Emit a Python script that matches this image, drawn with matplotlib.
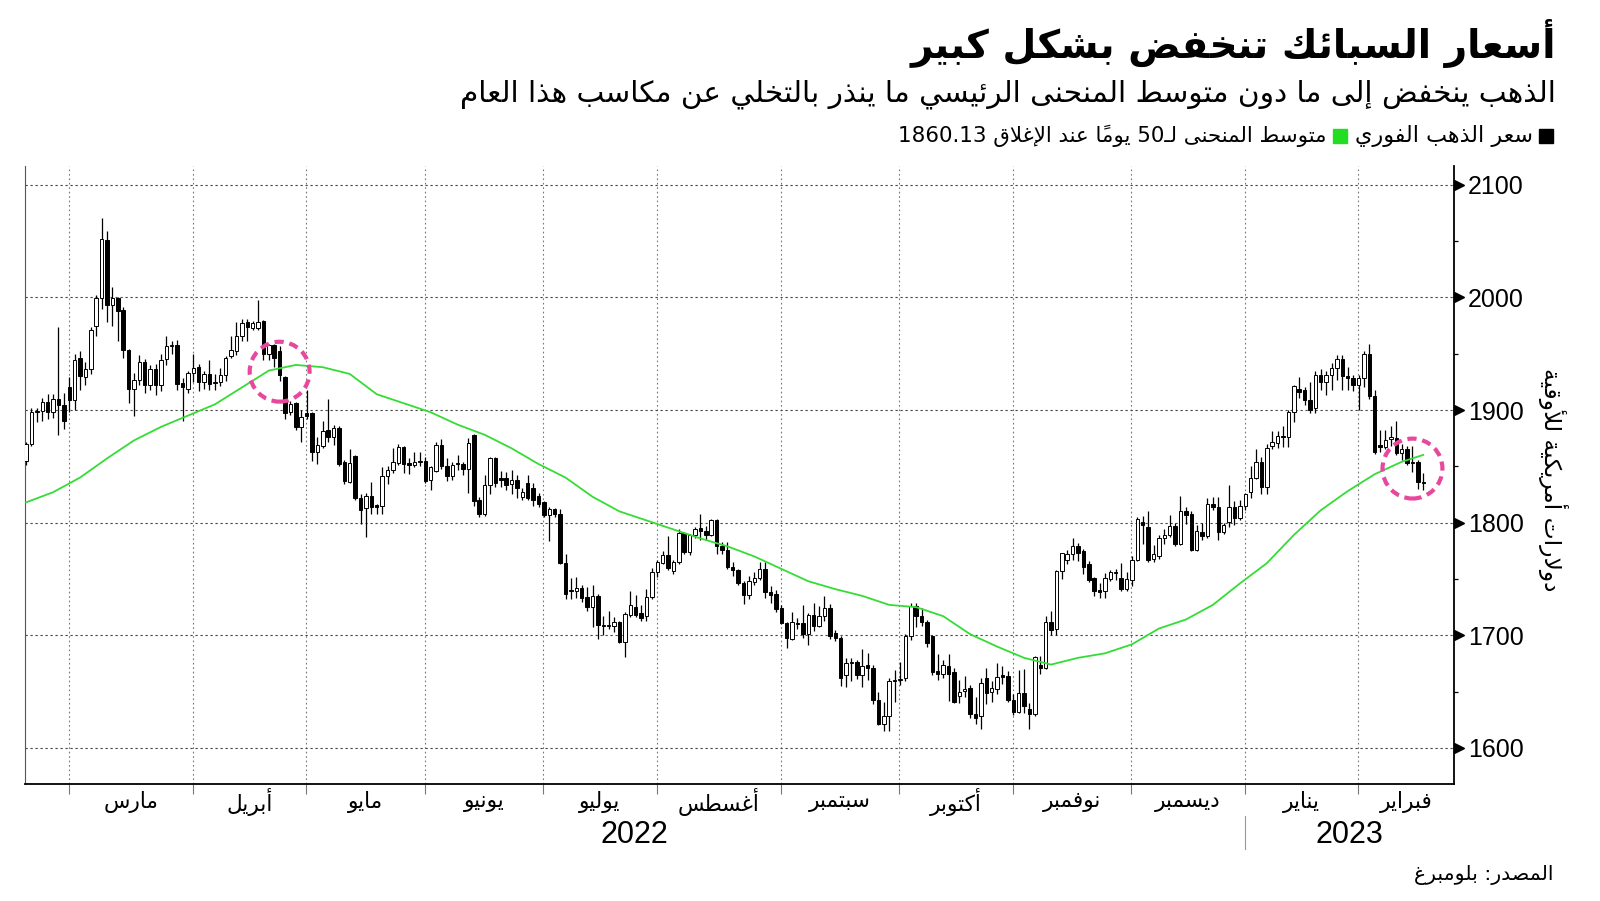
import numpy as np
import pandas as pd
import matplotlib
matplotlib.use('Agg')
import matplotlib.pyplot as plt
import matplotlib.transforms as mtransforms
from matplotlib.patches import Rectangle

plt.rcParams['font.family'] = ['DejaVu Sans']

# ---------------- data: gold spot daily candles, 16 Feb 2022 - 16 Feb 2023
opens = [
    1855, 1870, 1898, 1899, 1907, 1898, 1910, 1904, 1920,  # Feb 22
    1909, 1946, 1929, 1936, 1975, 1999, 2051, 1993, 1999, 1989, 1953, 1919, 1927, 1943, 1922, 1936,
    1922, 1945, 1957, 1958, 1924, 1919, 1933,  # Mar
    1938, 1925, 1932, 1924, 1925, 1931, 1948, 1952, 1966, 1978, 1973, 1973, 1979, 1950, 1958, 1952,
    1929, 1898, 1906, 1885, 1897,  # Apr
    1897, 1863, 1868, 1882, 1876, 1884, 1854, 1836, 1859, 1822, 1813, 1824, 1816, 1815, 1841, 1847,
    1853, 1867, 1853, 1851, 1854, 1855,  # May
    1838, 1846, 1869, 1850, 1841, 1853, 1852, 1848, 1878, 1820, 1808, 1833, 1857, 1840, 1840, 1834,
    1838, 1823, 1835, 1831, 1824, 1818,  # Jun
    1807, 1812, 1808, 1764, 1740, 1739, 1742, 1734, 1725, 1735, 1709, 1708, 1708, 1712, 1694, 1718,
    1725, 1720, 1717, 1734, 1756,  # Jul
    1764, 1771, 1757, 1765, 1791, 1774, 1789, 1795, 1793, 1789, 1802, 1779, 1776, 1761, 1758, 1746,
    1736, 1747, 1751, 1759, 1738, 1737, 1724,  # Aug
    1711, 1697, 1711, 1711, 1701, 1718, 1708, 1717, 1724, 1702, 1698, 1665, 1675, 1676, 1665, 1674,
    1671, 1643, 1621, 1628, 1659, 1660,  # Sep
    1662, 1699, 1726, 1717, 1712, 1699, 1668, 1666, 1673, 1667, 1646, 1651, 1653, 1630, 1628, 1662,
    1650, 1652, 1665, 1664, 1643,  # Oct
    1632, 1649, 1635, 1630, 1674, 1671, 1712, 1706, 1757, 1767, 1772, 1779, 1775, 1763, 1751, 1740,
    1739, 1750, 1756, 1751, 1741, 1749,  # Nov
    1767, 1801, 1796, 1768, 1770, 1786, 1789, 1797, 1781, 1810, 1808, 1776, 1792, 1788, 1817, 1814,
    1792, 1801, 1814, 1804, 1815,  # Dec
    1827, 1840, 1854, 1832, 1868, 1871, 1877, 1876, 1898, 1919, 1918, 1909, 1902, 1931, 1925, 1931,
    1937, 1945, 1930, 1928, 1922,  # Jan 23
    1928, 1950, 1912, 1869, 1867, 1874, 1875, 1862, 1865, 1854, 1854, 1836,  # Feb 23
]
highs = [
    1872, 1902, 1902, 1911, 1914, 1914, 1974, 1915, 1929,
    1950, 1952, 1943, 1974, 2002, 2070, 2059, 2009, 2000, 1991, 1954, 1933, 1949, 1945, 1940, 1941,
    1950, 1966, 1961, 1962, 1928, 1935, 1950,
    1941, 1935, 1944, 1932, 1937, 1948, 1966, 1978, 1981, 1981, 1979, 1998, 1980, 1959, 1959, 1957,
    1930, 1908, 1907, 1900, 1918,
    1898, 1876, 1890, 1910, 1887, 1886, 1856, 1865, 1860, 1825, 1826, 1836, 1817, 1849, 1850, 1866,
    1870, 1868, 1857, 1863, 1863, 1858,
    1850, 1872, 1874, 1857, 1854, 1860, 1854, 1875, 1879, 1823, 1842, 1858, 1858, 1846, 1845, 1847,
    1842, 1831, 1842, 1835, 1826, 1819,
    1814, 1813, 1812, 1772, 1751, 1752, 1745, 1743, 1745, 1737, 1717, 1722, 1716, 1713, 1721, 1739,
    1736, 1727, 1741, 1760, 1767,
    1775, 1788, 1767, 1794, 1792, 1790, 1796, 1808, 1797, 1803, 1803, 1783, 1783, 1765, 1759, 1748,
    1753, 1756, 1765, 1765, 1744, 1740, 1727,
    1712, 1721, 1715, 1727, 1720, 1729, 1726, 1735, 1728, 1705, 1699, 1680, 1680, 1678, 1688, 1684,
    1674, 1650, 1641, 1662, 1669, 1676,
    1701, 1729, 1729, 1724, 1714, 1700, 1683, 1678, 1683, 1671, 1660, 1664, 1656, 1645, 1662, 1671,
    1659, 1675, 1673, 1668, 1648,
    1669, 1670, 1640, 1682, 1682, 1717, 1722, 1758, 1773, 1776, 1786, 1782, 1777, 1766, 1752, 1746,
    1755, 1758, 1759, 1764, 1756, 1770,
    1805, 1806, 1810, 1780, 1789, 1794, 1807, 1800, 1824, 1814, 1810, 1798, 1800, 1822, 1823, 1823,
    1800, 1833, 1819, 1820, 1826,
    1850, 1865, 1858, 1870, 1881, 1881, 1886, 1900, 1922, 1929, 1920, 1925, 1935, 1936, 1935, 1942,
    1949, 1949, 1938, 1931, 1931,
    1952, 1959, 1918, 1882, 1882, 1886, 1890, 1870, 1868, 1868, 1856, 1844,
]
lows = [
    1851, 1868, 1889, 1890, 1892, 1893, 1878, 1883, 1898,
    1900, 1918, 1922, 1932, 1966, 1990, 1978, 1975, 1961, 1946, 1906, 1895, 1922, 1915, 1918, 1913,
    1917, 1940, 1950, 1918, 1890, 1915, 1925,
    1917, 1919, 1918, 1918, 1921, 1926, 1946, 1949, 1961, 1961, 1971, 1971, 1944, 1944, 1938, 1926,
    1892, 1896, 1882, 1872, 1892,
    1855, 1852, 1866, 1872, 1869, 1850, 1834, 1835, 1820, 1799, 1787, 1808, 1808, 1808, 1834, 1844,
    1851, 1844, 1843, 1849, 1850, 1835,
    1829, 1845, 1848, 1837, 1838, 1847, 1842, 1826, 1815, 1805, 1806, 1825, 1832, 1832, 1829, 1825,
    1822, 1820, 1820, 1815, 1814, 1805,
    1784, 1805, 1763, 1732, 1732, 1733, 1730, 1722, 1707, 1697, 1700, 1706, 1703, 1693, 1681, 1716,
    1716, 1713, 1713, 1732, 1752,
    1763, 1758, 1754, 1763, 1772, 1771, 1786, 1785, 1785, 1788, 1772, 1772, 1759, 1753, 1745, 1728,
    1732, 1745, 1749, 1733, 1729, 1721, 1710,
    1689, 1696, 1706, 1698, 1691, 1704, 1707, 1713, 1697, 1695, 1655, 1654, 1659, 1661, 1654, 1660,
    1639, 1620, 1615, 1615, 1641, 1656,
    1659, 1696, 1707, 1708, 1690, 1665, 1660, 1662, 1642, 1640, 1640, 1645, 1627, 1621, 1617, 1639,
    1641, 1648, 1657, 1641, 1629,
    1631, 1631, 1617, 1628, 1666, 1670, 1700, 1700, 1750, 1763, 1767, 1766, 1754, 1747, 1735, 1733,
    1733, 1748, 1749, 1739, 1739, 1744,
    1766, 1781, 1765, 1765, 1768, 1781, 1787, 1779, 1780, 1799, 1775, 1775, 1785, 1786, 1811, 1785,
    1790, 1796, 1798, 1802, 1811,
    1822, 1839, 1825, 1825, 1865, 1866, 1867, 1867, 1889, 1911, 1904, 1897, 1897, 1918, 1913, 1918,
    1927, 1918, 1918, 1917, 1900,
    1920, 1910, 1861, 1863, 1865, 1868, 1860, 1856, 1851, 1845, 1830, 1829,
]
closes = [
    1870, 1898, 1899, 1907, 1898, 1910, 1904, 1890, 1909,
    1944, 1930, 1936, 1971, 1999, 2052, 1993, 1999, 1988, 1953, 1919, 1927, 1943, 1922, 1936, 1922,
    1944, 1957, 1958, 1923, 1920, 1933, 1937,
    1925, 1932, 1923, 1925, 1931, 1946, 1953, 1966, 1977, 1974, 1977, 1978, 1950, 1958, 1946, 1931,
    1897, 1905, 1885, 1894, 1895,
    1863, 1869, 1881, 1876, 1884, 1852, 1837, 1853, 1822, 1811, 1824, 1814, 1814, 1841, 1847, 1854,
    1867, 1852, 1851, 1854, 1855, 1837,
    1849, 1869, 1850, 1841, 1851, 1852, 1848, 1871, 1819, 1808, 1833, 1857, 1835, 1838, 1833, 1838,
    1831, 1827, 1822, 1820, 1817, 1807,
    1812, 1808, 1764, 1737, 1739, 1742, 1733, 1725, 1735, 1709, 1708, 1709, 1712, 1694, 1719, 1727,
    1718, 1715, 1734, 1756, 1765,
    1771, 1760, 1765, 1791, 1774, 1789, 1794, 1793, 1789, 1802, 1779, 1776, 1761, 1758, 1746, 1736,
    1748, 1751, 1759, 1738, 1736, 1723, 1711,
    1698, 1712, 1710, 1701, 1718, 1708, 1717, 1724, 1699, 1698, 1662, 1675, 1676, 1665, 1673, 1671,
    1643, 1621, 1628, 1659, 1660, 1661,
    1699, 1726, 1717, 1712, 1693, 1667, 1666, 1674, 1666, 1641, 1650, 1652, 1630, 1627, 1658, 1649,
    1653, 1663, 1663, 1643, 1632,
    1649, 1637, 1630, 1681, 1671, 1712, 1705, 1757, 1773, 1772, 1779, 1773, 1761, 1749, 1739, 1738,
    1751, 1756, 1755, 1741, 1750, 1767,
    1803, 1798, 1767, 1772, 1786, 1789, 1797, 1781, 1810, 1807, 1776, 1793, 1788, 1817, 1814, 1792,
    1798, 1814, 1804, 1815, 1825,
    1840, 1854, 1832, 1866, 1872, 1877, 1876, 1898, 1921, 1916, 1909, 1900, 1931, 1925, 1931, 1937,
    1945, 1930, 1928, 1922, 1928,
    1950, 1912, 1863, 1867, 1873, 1876, 1862, 1865, 1853, 1853, 1836, 1835,
]
# 50-day moving average, read every 5th trading day (last point = latest close)
ma_values = [1818, 1827, 1840, 1857, 1873, 1885, 1895, 1905, 1920, 1935, 1940, 1938, 1932, 1914,
             1906, 1898, 1887, 1878, 1866, 1852, 1840, 1823, 1810, 1802, 1794, 1786, 1779, 1770,
             1759, 1748, 1741, 1735, 1727, 1725, 1717, 1701, 1690, 1680, 1674, 1680, 1684, 1692,
             1706, 1714, 1727, 1746, 1764, 1789, 1811, 1828, 1843, 1854, 1860.13]
highlight_dates = ['2022-04-22', '2023-02-14']
highlight_levels = [1934, 1848]

month_labels = ['مارس', 'أبريل', 'مايو', 'يونيو', 'يوليو', 'أغسطس', 'سبتمبر', 'أكتوبر',
                'نوفمبر', 'ديسمبر', 'يناير', 'فبراير']
year_labels = ['2022', '2023']
title = 'أسعار السبائك تنخفض بشكل كبير'
subtitle = 'الذهب ينخفض إلى ما دون متوسط المنحنى الرئيسي ما ينذر بالتخلي عن مكاسب هذا العام'
legend_labels = ['سعر الذهب الفوري', 'متوسط المنحنى لـ50 يوماً عند الإغلاق 1860.13']
ylabel = 'دولارات أمريكية للأوقية'
source = 'المصدر: بلومبرغ'

# ---------------- minimal Arabic shaping (matplotlib has no RTL/joining support)
_dual = dict(zip('ئبتثجحخسشصضطظعغفقكلمنهي',
                 [0xFE89, 0xFE8F, 0xFE95, 0xFE99, 0xFE9D, 0xFEA1, 0xFEA5, 0xFEB1, 0xFEB5, 0xFEB9,
                  0xFEBD, 0xFEC1, 0xFEC5, 0xFEC9, 0xFECD, 0xFED1, 0xFED5, 0xFED9, 0xFEDD, 0xFEE1,
                  0xFEE5, 0xFEE9, 0xFEF1]))
_right = dict(zip('آأؤإاةدذرزوى',
                  [0xFE81, 0xFE83, 0xFE85, 0xFE87, 0xFE8D, 0xFE93, 0xFEA9, 0xFEAB, 0xFEAD, 0xFEAF,
                   0xFEED, 0xFEEF]))
FORMS = {k: tuple(chr(v + i) for i in range(4)) for k, v in _dual.items()}
FORMS.update({k: (chr(v), chr(v + 1), None, None) for k, v in _right.items()})
FORMS['ء'] = ('\uFE80', None, None, None)
FORMS['ـ'] = ('ـ',) * 4
LAM_ALEF = {'آ': ('\uFEF5', '\uFEF6'), 'أ': ('\uFEF7', '\uFEF8'),
            'إ': ('\uFEF9', '\uFEFA'), 'ا': ('\uFEFB', '\uFEFC')}


def ar(s):
    units = []
    i = 0
    while i < len(s):
        c = s[i]
        if '\u064b' <= c <= '\u0652' and units:
            units[-1][1] += c
        elif c == 'ل' and i + 1 < len(s) and s[i + 1] in LAM_ALEF:
            units.append([('la', s[i + 1]), ''])
            i += 1
        else:
            units.append([c, ''])
        i += 1

    def dual(u):
        return not isinstance(u[0], tuple) and u[0] in FORMS and FORMS[u[0]][2] is not None

    def joins(u):
        return isinstance(u[0], tuple) or (u[0] in FORMS and FORMS[u[0]][1] is not None)

    out = []
    for n, u in enumerate(units):
        k = u[0]
        jp = n > 0 and dual(units[n - 1]) and joins(u)
        jn = n + 1 < len(units) and dual(u) and joins(units[n + 1])
        if isinstance(k, tuple):
            g = LAM_ALEF[k[1]][1 if jp else 0]
        elif k in FORMS:
            iso, fin, ini, med = FORMS[k]
            g = med if (jp and jn) else fin if jp else ini if jn else iso
        else:
            g = k
        out.append(g + u[1])
    res, run = [], []
    for g in out[::-1]:
        if g[0] in '0123456789.':
            run.append(g)
        else:
            res.extend(run[::-1])
            run = []
            res.append(g)
    res.extend(run[::-1])
    return ''.join(res)


# ---------------- positions
dates = pd.bdate_range('2022-02-16', '2023-02-16')
dates = dates.drop(pd.to_datetime(['2022-12-26', '2023-01-02']))
x = np.arange(len(dates))
o, h, l, c = map(np.array, (opens, highs, lows, closes))
ma_x = list(range(0, len(dates) - 4, 5)) + [len(dates) - 1]
per = dates.to_period('M')
starts = np.where(per[1:] != per[:-1])[0] + 1
bounds = starts - 1.1
xmin, xmax = -0.2, 264.7
hl_x = [dates.get_loc(pd.Timestamp(d)) for d in highlight_dates]

W, H = 1600, 901
fig = plt.figure(figsize=(16, 9.01), dpi=100)
ax = fig.add_axes([25 / W, 1 - 784 / H, 1429 / W, 618 / H])

ax.vlines(x, l, h, color='black', lw=0.9, zorder=3)
up = c > o
ax.bar(x, np.maximum(np.abs(c - o), 0.9), bottom=np.minimum(o, c), width=0.64,
       color=np.where(up, 'white', 'black'), edgecolor='black', linewidth=0.7, zorder=4)
ax.plot(ma_x, ma_values, color='#36dc36', lw=1.3, zorder=5)
ax.scatter(hl_x, highlight_levels, s=1860, facecolors='none', edgecolors='#e8479e',
           linewidths=3.0, linestyles=[(0, (2.2, 1.4))], zorder=6)

ax.set_xlim(xmin, xmax)
ax.set_ylim(1568, 2116.6)
ax.set_xticks(bounds)
ax.set_xticklabels([])
ax.xaxis.grid(True, color='#777777', linestyle=(0, (1.5, 2.5)), lw=0.8)
ax.tick_params(axis='x', length=7, width=0.8, color='#777777')
ax.yaxis.tick_right()
ax.set_yticks(range(1600, 2101, 100))
ax.set_yticks(range(1650, 2100, 100), minor=True)
ax.yaxis.grid(True, which='major', color='#444444', linestyle=(0, (2, 2.5)), lw=0.8)
ax.tick_params(axis='y', which='major', length=0, pad=10, labelsize=18)
ax.tick_params(axis='y', which='minor', length=3, width=0.9, color='black')
for lab in ax.get_yticklabels():
    lab.set_fontfamily('Liberation Sans')
ax.set_axisbelow(True)
ax.spines['top'].set_visible(False)
ax.spines['left'].set_color('#555555')
ax.spines['left'].set_linewidth(0.8)
for s in ('right', 'bottom'):
    ax.spines[s].set_linewidth(1.3)

trans_y = mtransforms.blended_transform_factory(ax.transAxes, ax.transData)
ax.plot([1 + 4.5 / 1429] * 6, range(1600, 2101, 100), marker='>', ls='none', ms=6.5,
        color='black', transform=trans_y, clip_on=False)

# month and year labels
trans_x = mtransforms.blended_transform_factory(ax.transData, ax.transAxes)
edges = list(bounds) + [xmax]
month_txt = []
for i, m in enumerate(month_labels):
    t = ax.text((edges[i] + edges[i + 1]) / 2, -18 / 618, ar(m), transform=trans_x,
                ha='center', va='center', fontsize=14)
    month_txt.append(t)
jan = bounds[10]
for xc, lab in zip([(xmin + jan) / 2, (jan + xmax) / 2], year_labels):
    ax.text(xc, -51 / 618, lab, transform=trans_x, ha='center', va='center', fontsize=22,
            family=['Liberation Sans Narrow', 'Liberation Sans'])
ax.plot([jan, jan], [-32 / 618, -65 / 618], transform=trans_x, color='#999999', lw=0.8,
        clip_on=False)

# ---------------- header, legend, labels
renderer = fig.canvas.get_renderer()


def fit(t, width_px, vertical=False):
    bb = t.get_window_extent(renderer)
    size = bb.height if vertical else bb.width
    t.set_fontsize(t.get_fontsize() * width_px / size)


scale = 63 / month_txt[6].get_window_extent(renderer).width
for t in month_txt:
    t.set_fontsize(t.get_fontsize() * scale)

t = fig.text(1556 / W, 1 - 44 / H, ar(title), ha='right', va='center', fontsize=28,
             fontweight='bold')
fit(t, 646)
t = fig.text(1556 / W, 1 - 94 / H, ar(subtitle), ha='right', va='center', fontsize=20)
fit(t, 1095)

ly = 136
fig.add_artist(Rectangle((1539 / W, 1 - (ly + 7) / H), 14 / W, 14 / H, color='black',
                         transform=fig.transFigure))
t1 = fig.text(1533 / W, 1 - ly / H, ar(legend_labels[0]), ha='right', va='center', fontsize=14)
fit(t1, 180)
x1 = t1.get_window_extent(renderer).x0
fig.add_artist(Rectangle(((x1 - 22) / W, 1 - (ly + 7) / H), 14 / W, 14 / H, color='#22dd22',
                         transform=fig.transFigure))
t2 = fig.text((x1 - 28) / W, 1 - ly / H, ar(legend_labels[1]), ha='right', va='center',
              fontsize=14)
fit(t2, 432)

t = fig.text(1553 / W, 1 - 480 / H, ar(ylabel), rotation=270, ha='center', va='center',
             fontsize=14)
fit(t, 225, vertical=True)
t = fig.text(1553 / W, 1 - 875 / H, ar(source), ha='right', va='center', fontsize=14)
fit(t, 140)

fig.savefig('out.png', dpi=100)
